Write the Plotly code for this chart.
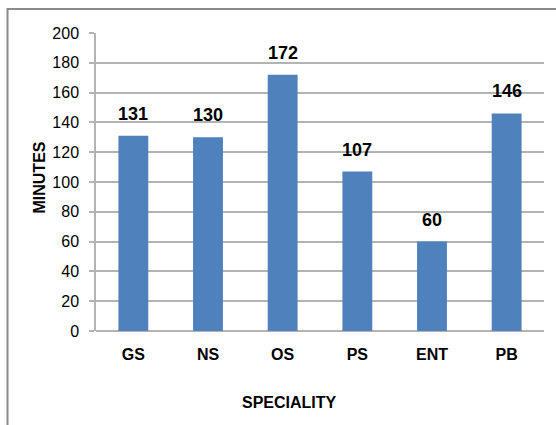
import plotly.graph_objects as go

specialities = ["GS", "NS", "OS", "PS", "ENT", "PB"]
minutes = [131, 130, 172, 107, 60, 146]
y_ticks = [0, 20, 40, 60, 80, 100, 120, 140, 160, 180, 200]

BAR_COLOR = "#4F81BD"
GRID_COLOR = "#b3b3b3"
FONT = "Liberation Sans, Arial, sans-serif"

fig = go.Figure()
fig.add_trace(go.Bar(
    x=specialities,
    y=minutes,
    marker=dict(color=BAR_COLOR, line=dict(width=0)),
    hoverinfo="skip",
))

# value labels above each bar
annotations = [
    dict(x=cat, y=val, xref="x", yref="y", text=f"<b>{val}</b>",
         showarrow=False, yanchor="middle", yshift=22,
         font=dict(family=FONT, size=18, color="#000000"))
    for cat, val in zip(specialities, minutes)
]
annotations.append(dict(
    x=0.433, y=-0.2416, xref="paper", yref="paper", text="<b>SPECIALITY</b>",
    showarrow=False, xanchor="center", yanchor="middle",
    font=dict(family=FONT, size=16, color="#000000")))
annotations.append(dict(
    x=-0.1250, y=0.515, xref="paper", yref="paper", text="<b>MINUTES</b>",
    showarrow=False, xanchor="center", yanchor="middle", textangle=-90,
    font=dict(family=FONT, size=16, color="#000000")))

fig.update_layout(
    width=556, height=425,
    margin=dict(l=96, r=12, t=33, b=94),
    paper_bgcolor="white",
    plot_bgcolor="white",
    showlegend=False,
    bargap=0.6,
    annotations=annotations,
    shapes=[dict(
        type="rect", xref="paper", yref="paper",
        x0=-0.1975, x1=1.2, y0=-0.5, y1=1.0805,
        line=dict(color="#8a8a8a", width=2), fillcolor="rgba(0,0,0,0)",
        layer="above")],
    xaxis=dict(
        type="category",
        showgrid=False,
        showline=False,
        ticks="",
        ticklabelstandoff=12,
        tickfont=dict(family=FONT, size=16, color="#000000", weight="bold"),
    ),
    yaxis=dict(
        range=[0, 200],
        tickvals=y_ticks,
        showgrid=True,
        gridcolor=GRID_COLOR,
        gridwidth=1.5,
        showline=True,
        linecolor=GRID_COLOR,
        linewidth=1.5,
        ticks="outside",
        ticklen=5,
        tickcolor=GRID_COLOR,
        tickwidth=1.5,
        ticklabelstandoff=7,
        zeroline=True,
        zerolinecolor=GRID_COLOR,
        zerolinewidth=1.5,
        tickfont=dict(family=FONT, size=16, color="#000000"),
    ),
)

fig.write_html("out.html")
